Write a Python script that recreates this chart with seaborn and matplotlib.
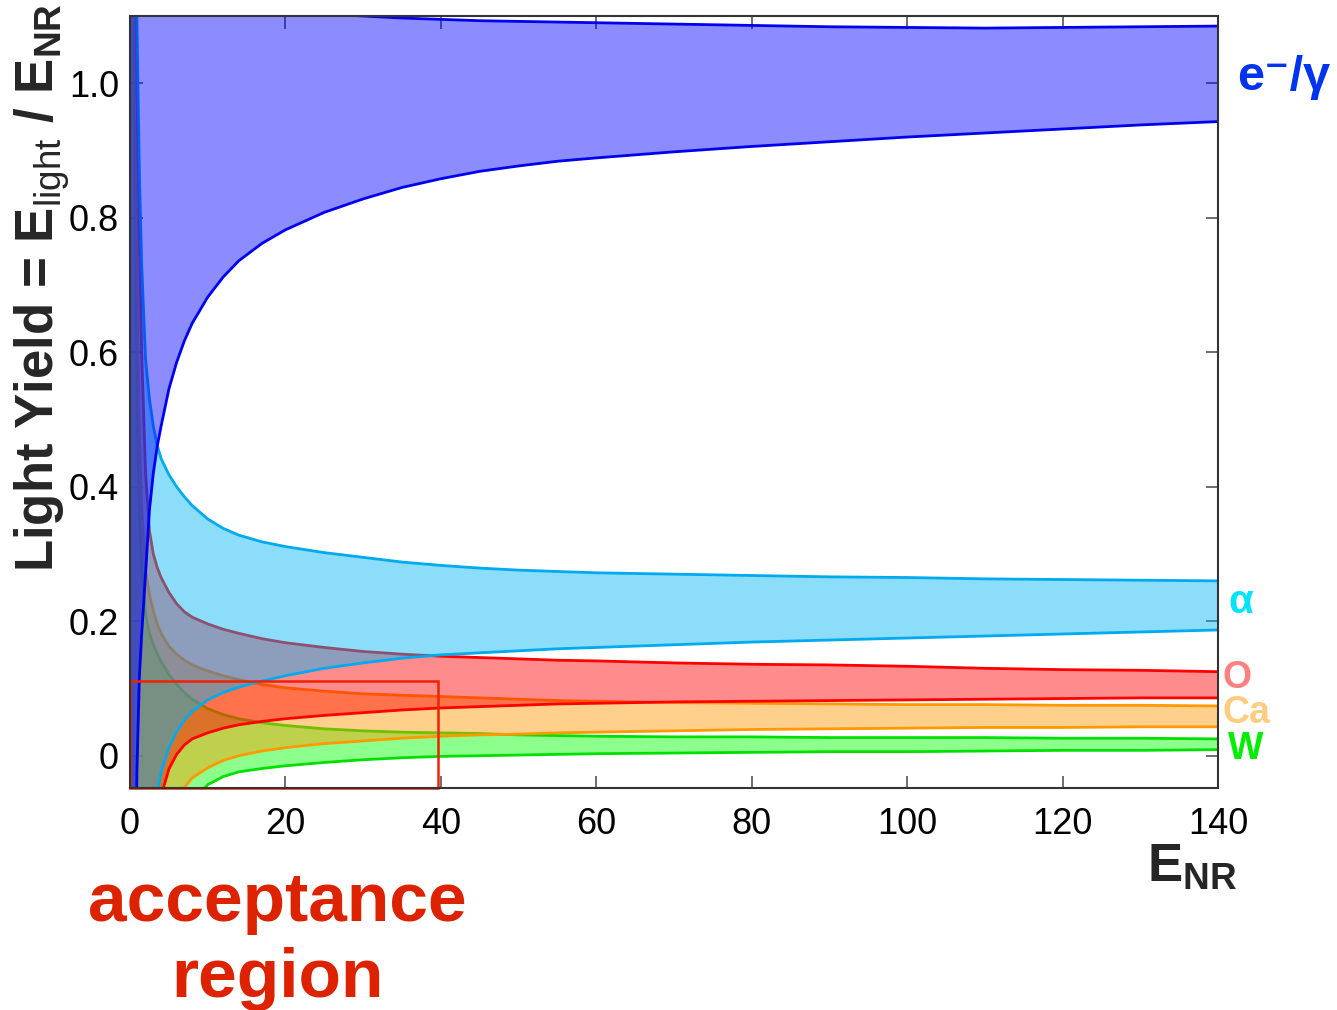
import numpy as np
import pandas as pd
import matplotlib
matplotlib.use("Agg")
import matplotlib.pyplot as plt
import seaborn as sns
from matplotlib.patches import Rectangle

# ---------------- data ----------------
X = [0.1, 0.6, 0.9, 1.2, 1.5, 2, 2.5, 3, 3.5, 4, 5, 6, 7, 8, 10, 12, 14, 17, 20,
     25, 30, 35, 40, 45, 50, 55, 60, 70, 80, 90, 100, 110, 120, 130, 140]

eg_hi = [1.5, 1.4, 1.3, 1.25, 1.22, 1.2, 1.18, 1.17, 1.16, 1.155, 1.15, 1.14, 1.135, 1.13,
         1.125, 1.12, 1.115, 1.11, 1.107, 1.103, 1.100, 1.097, 1.095, 1.093, 1.092, 1.091,
         1.090, 1.088, 1.086, 1.084, 1.083, 1.082, 1.083, 1.084, 1.085]
eg_lo = [-0.9, -0.25, -0.02, 0.115, 0.18, 0.27, 0.365, 0.42, 0.46, 0.49, 0.545, 0.585,
         0.617, 0.643, 0.682, 0.712, 0.736, 0.762, 0.782, 0.808, 0.828, 0.845, 0.858, 0.869,
         0.877, 0.884, 0.889, 0.898, 0.906, 0.913, 0.920, 0.926, 0.932, 0.938, 0.943]

a_hi = [1.8, 1.4, 1.08, 0.87, 0.73, 0.59, 0.53, 0.49, 0.462, 0.442, 0.418, 0.40, 0.385,
        0.372, 0.352, 0.338, 0.328, 0.318, 0.311, 0.302, 0.295, 0.288, 0.283, 0.279, 0.276,
        0.274, 0.272, 0.270, 0.268, 0.266, 0.265, 0.263, 0.262, 0.261, 0.260]
a_lo = [-0.9, -0.8, -0.7, -0.6, -0.5, -0.35, -0.2, -0.11, -0.055, -0.025, 0.012, 0.036,
        0.053, 0.066, 0.083, 0.094, 0.102, 0.111, 0.119, 0.130, 0.138, 0.145, 0.150, 0.153,
        0.156, 0.159, 0.161, 0.165, 0.169, 0.172, 0.175, 0.178, 0.181, 0.184, 0.187]

o_hi = [1.8, 1.4, 1.0, 0.78, 0.6, 0.42, 0.335, 0.30, 0.28, 0.265, 0.243, 0.226, 0.214,
        0.206, 0.196, 0.188, 0.182, 0.174, 0.168, 0.161, 0.155, 0.151, 0.148, 0.146, 0.144,
        0.142, 0.141, 0.138, 0.136, 0.135, 0.133, 0.130, 0.128, 0.127, 0.125]
o_lo = [-1.0, -0.9, -0.85, -0.8, -0.7, -0.5, -0.33, -0.2, -0.11, -0.06, -0.02, 0.002, 0.016,
        0.025, 0.034, 0.041, 0.046, 0.051, 0.055, 0.060, 0.064, 0.068, 0.071, 0.073, 0.075,
        0.077, 0.078, 0.080, 0.081, 0.082, 0.083, 0.084, 0.085, 0.086, 0.086]

c_hi = [1.8, 1.2, 0.7, 0.48, 0.37, 0.275, 0.24, 0.215, 0.196, 0.182, 0.163, 0.151, 0.142,
        0.135, 0.126, 0.119, 0.113, 0.106, 0.101, 0.096, 0.092, 0.090, 0.088, 0.086, 0.084,
        0.082, 0.081, 0.079, 0.078, 0.077, 0.076, 0.076, 0.075, 0.075, 0.074]
c_lo = [-1.0, -0.95, -0.9, -0.85, -0.8, -0.7, -0.55, -0.4, -0.3, -0.22, -0.13, -0.075,
        -0.047, -0.033, -0.018, -0.007, 0.000, 0.007, 0.012, 0.018, 0.022, 0.026, 0.029,
        0.031, 0.032, 0.034, 0.035, 0.037, 0.039, 0.040, 0.041, 0.042, 0.042, 0.043, 0.043]

w_hi = [1.8, 1.0, 0.55, 0.36, 0.28, 0.21, 0.182, 0.165, 0.151, 0.14, 0.121, 0.106, 0.094,
        0.084, 0.070, 0.061, 0.055, 0.049, 0.045, 0.040, 0.037, 0.035, 0.034, 0.033, 0.031,
        0.030, 0.029, 0.028, 0.028, 0.027, 0.027, 0.027, 0.026, 0.026, 0.025]
w_lo = [-1.1, -1.05, -1.0, -0.95, -0.9, -0.8, -0.7, -0.6, -0.5, -0.4, -0.25, -0.16, -0.1,
        -0.07, -0.043, -0.031, -0.024, -0.019, -0.015, -0.010, -0.006, -0.003, -0.001,
        0.000, 0.001, 0.002, 0.003, 0.004, 0.005, 0.006, 0.006, 0.007, 0.008, 0.008, 0.009]

acc_x = [0, 39.6]
acc_y = [-0.048, 0.111]

x_ticks = [0, 20, 40, 60, 80, 100, 120, 140]
y_ticks = [0, 0.2, 0.4, 0.6, 0.8, 1.0]
y_ticklabels = ["0", "0.2", "0.4", "0.6", "0.8", "1.0"]

# ---------------- style ----------------
sns.set_theme(style="ticks")
plt.rcParams['font.family'] = ['Liberation Sans', 'DejaVu Sans']
plt.rcParams['mathtext.fontset'] = 'custom'
plt.rcParams['mathtext.rm'] = 'Liberation Sans:bold'
plt.rcParams['mathtext.sf'] = 'Liberation Sans'
plt.rcParams['mathtext.default'] = 'rm'

W_, H_ = 1337, 1010
fig = plt.figure(figsize=(W_ / 100, H_ / 100), dpi=100)
ax = fig.add_axes([130 / W_, 1 - 788 / H_, 1088 / W_, 772 / H_])

# bands, drawn bottom -> top
bands = [
    ("W",  w_lo,  w_hi,  "#00ff00", "#00e000"),
    ("Ca", c_lo,  c_hi,  "#ff9700", "#ff9900"),
    ("O",  o_lo,  o_hi,  "#ff0000", "#ff0000"),
    ("a",  a_lo,  a_hi,  "#00b4f5", "#00aaee"),
    ("eg", eg_lo, eg_hi, "#0000ff", "#0000ee"),
]
for i, (name, lo, hi, fc, lc) in enumerate(bands):
    ax.fill_between(X, lo, hi, color=fc, alpha=0.45, lw=0, zorder=1 + 2 * i)
    df = pd.DataFrame({"x": X, "lo": lo, "hi": hi})
    sns.lineplot(data=df, x="x", y="hi", ax=ax, color=lc, lw=2.0, sort=False,
                 zorder=2 + 2 * i)
    sns.lineplot(data=df, x="x", y="lo", ax=ax, color=lc, lw=2.0, sort=False,
                 zorder=2 + 2 * i)

# acceptance region box
ax.add_patch(Rectangle((acc_x[0], acc_y[0]), acc_x[1] - acc_x[0], acc_y[1] - acc_y[0],
                       fill=False, ec="#ee2200", lw=1.8, zorder=20, clip_on=False))

ax.set_xlim(0, 140)
ax.set_ylim(-0.048, 1.10)
ax.set_xticks(x_ticks)
ax.set_xticklabels([str(t) for t in x_ticks])
ax.set_yticks(y_ticks)
ax.set_yticklabels(y_ticklabels)
ax.set_xlabel("")
ax.set_ylabel("")
ax.tick_params(direction="in", length=9, width=1.2, color="#555555", labelsize=26,
               labelcolor="black", top=True, right=True)
ax.tick_params(axis="x", pad=14)
ax.tick_params(axis="y", pad=8)
for sp in ax.spines.values():
    sp.set_visible(True)
    sp.set_color("#333333")
    sp.set_linewidth(1.5)
    sp.set_zorder(30)

# right-hand band labels
ax.text(142.4, 1.009, "e⁻/γ", color="#0033ee", fontsize=35, fontweight="bold",
        ha="left", va="center", clip_on=False)
ax.text(141.3, 0.229, "α", color="#00e4ff", fontsize=29, fontweight="bold",
        ha="left", va="center", clip_on=False)
ax.text(140.6, 0.116, "O", color="#ff8080", fontsize=27, fontweight="bold",
        ha="left", va="center", clip_on=False)
ax.text(140.6, 0.063, "Ca", color="#ffcc80", fontsize=27, fontweight="bold",
        ha="left", va="center", clip_on=False)
ax.text(141.3, 0.010, "W", color="#00ee00", fontsize=27, fontweight="bold",
        ha="left", va="center", clip_on=False)

# axis labels
fig.text(42 / W_, 1 - 288 / H_,
         "Light Yield = E$_{\\mathsf{light}}$ / E$_{\\mathrm{NR}}$",
         rotation=90, ha="center", va="center", fontsize=38, fontweight="bold")
fig.text(1237 / W_, 1 - 882 / H_, "E$_{\\mathrm{NR}}$", ha="right", va="baseline",
         fontsize=38, fontweight="bold")

# acceptance region annotation
fig.text(277 / W_, 1 - 921 / H_, "acceptance", color="#dd2200", fontsize=50,
         fontweight="bold", ha="center", va="baseline")
fig.text(277 / W_, 1 - 997 / H_, "region", color="#dd2200", fontsize=50,
         fontweight="bold", ha="center", va="baseline")

fig.savefig("out.png", dpi=100)
